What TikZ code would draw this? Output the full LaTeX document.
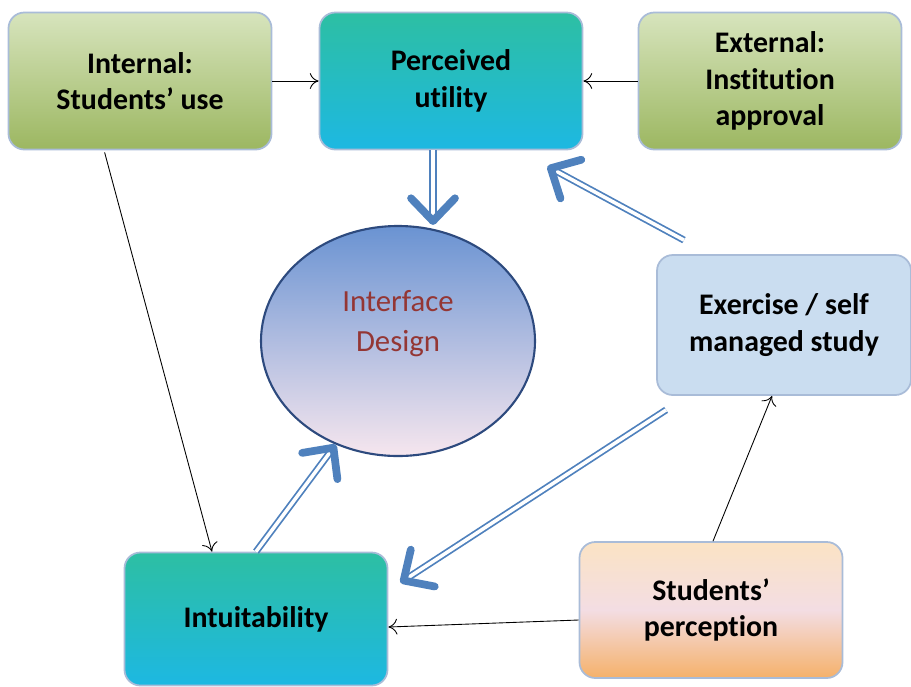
\documentclass[tikz,border=0pt]{standalone}
\usepackage{fontspec}
\setmainfont{Carlito}[Ligatures=NoCommon]
\usepackage{tikz}
\usetikzlibrary{positioning,arrows.meta,shapes.geometric}
\usepackage{xcolor}
\definecolor{BoxEdge}{HTML}{A9BCD8}
\definecolor{GreenTop}{HTML}{D7E4BD}
\definecolor{GreenBot}{HTML}{9CB761}
\definecolor{TealTop}{HTML}{2DBFA3}
\definecolor{CyanBot}{HTML}{1DB8E2}
\definecolor{PeachTop}{HTML}{FBE3C4}
\definecolor{PinkMid}{HTML}{F3DDE3}
\definecolor{OrangeBot}{HTML}{F5B16A}
\definecolor{IceBlue}{HTML}{CADDF0}
\definecolor{EllTop}{HTML}{6A93D2}
\definecolor{EllBot}{HTML}{F6E6EE}
\definecolor{EllEdge}{HTML}{2D4A7E}
\definecolor{DesignRed}{HTML}{943634}
\definecolor{ArrowBlue}{HTML}{4F81BD}

\begin{document}
\begin{tikzpicture}[x=0.2mm, y=-0.2mm,
  every node/.style={font=\fontsize{17}{20.8}\selectfont\bfseries, align=center},
  card/.style={draw=BoxEdge, line width=1pt, rounded corners=9pt,
    minimum width=52.6mm, minimum height=27.4mm},
  greencard/.style={card, top color=GreenTop, bottom color=GreenBot},
  bluecard/.style={card, top color=TealTop, bottom color=CyanBot},
  thin arrow/.style={-{To[length=5pt,width=9pt]}, black, line width=0.5pt},
  big arrow/.style={draw=ArrowBlue, line width=1pt, double=white, double distance=2pt,
    -{Straight Barb[length=13pt,width=25pt,line width=4.4pt,round]}}]
\useasboundingbox (0,0) rectangle (911,686);

\node[greencard] (internal) at (140,81) {Internal:\\Students' use};
\node[bluecard] (utility) at (451,81) {Perceived\\utility};
\node[greencard] (external) at (770,81) {External:\\Institution\\approval};
\node[draw=EllEdge, line width=1.2pt, ellipse, top color=EllTop, bottom color=EllBot,
  minimum width=54.8mm, minimum height=46mm] (design) at (398,341) {};
\node[font=\fontsize{17.5}{22.7}\selectfont, text=DesignRed] (designtext)
  at ([shift={(0,-17)}]design.center) {Interface\\Design};
\node[card, fill=IceBlue, minimum width=50.8mm, minimum height=28mm] (exercise) at (784,325)
  {Exercise / self\\managed study};
\node[bluecard, minimum height=26.6mm] (intuit) at (256,619) {Intuitability};
\node[card, top color=PeachTop, bottom color=OrangeBot, middle color=PinkMid,
  minimum height=27.2mm] (perception) at (711,610) {Students'\\perception};

% thin connectors
\draw[thin arrow] (internal) -- (utility);
\draw[thin arrow] (external) -- (utility);
\draw[thin arrow] ([shift={(97,2)}]internal.south west) -- ([shift={(-44,0)}]intuit.north);
\draw[thin arrow] ([shift={(0,10)}]perception.west) -- ([shift={(0,8)}]intuit.east);
\draw[thin arrow] ([shift={(2,0)}]perception.north) -- ([shift={(-12,0)}]exercise.south);

% double blue arrows
\draw[big arrow] ([shift={(-18,0)}]utility.south) -- ([shift={(-18,0)}]utility.south |- design.north);
\draw[big arrow] ([shift={(-100,-14)}]exercise.north) -- ([shift={(-36,16)}]utility.south east);
\draw[big arrow] ([shift={(10,14)}]exercise.south west) -- ([shift={(12,31)}]intuit.north east);
\draw[big arrow] (intuit.north) -- (design.-121);
\end{tikzpicture}
\end{document}
